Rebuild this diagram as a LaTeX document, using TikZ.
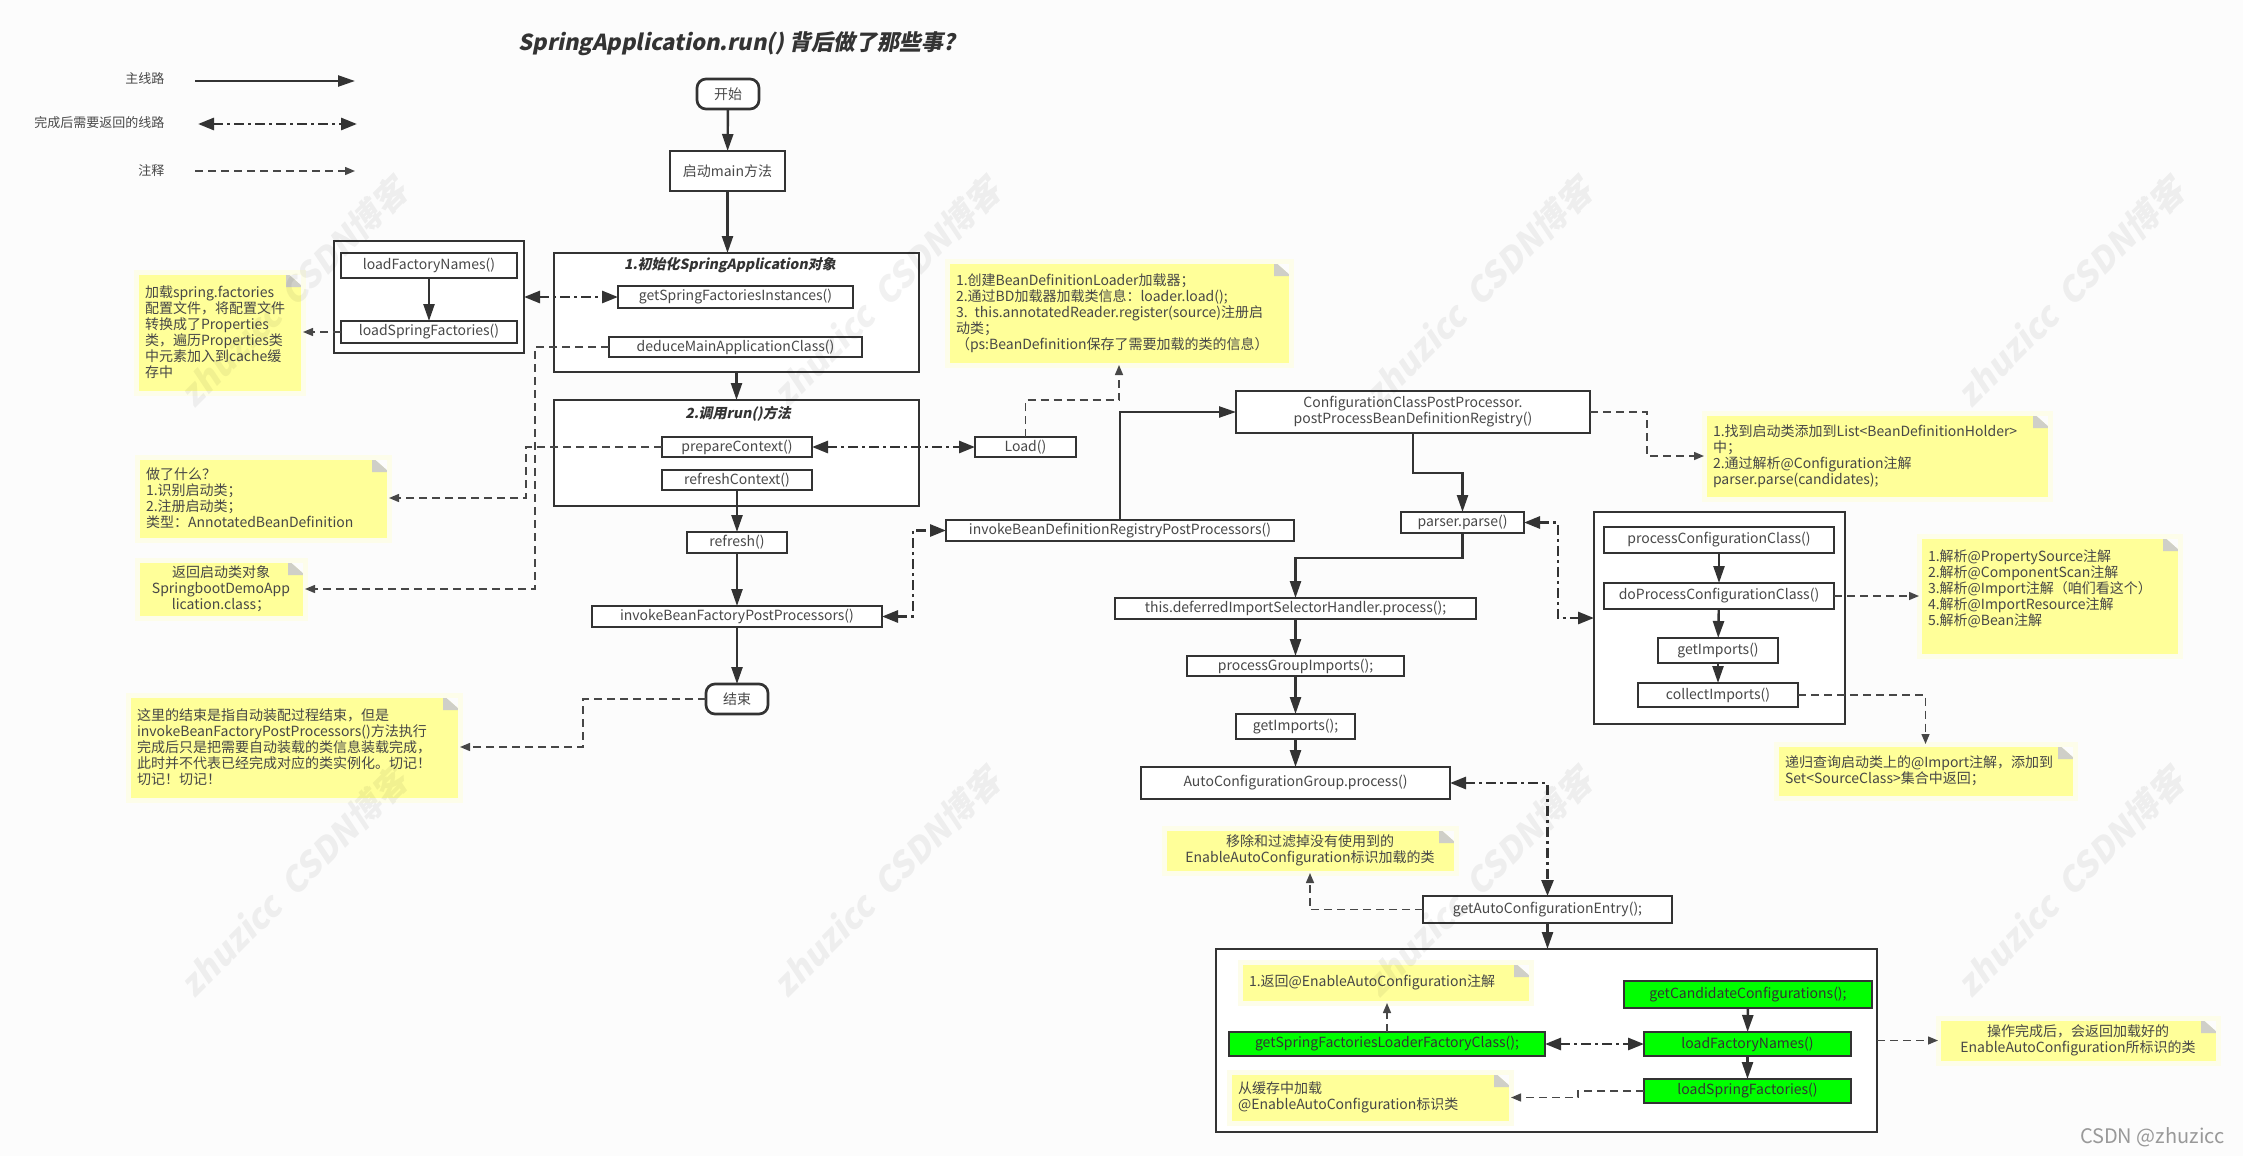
\documentclass[tikz,border=0pt]{standalone}
\usepackage{fontspec}
\setmainfont{Noto Sans CJK SC}
\newfontfamily\slantf[BoldFeatures={FakeSlant=0.2},UprightFeatures={FakeSlant=0.2}]{Noto Sans CJK SC}
\usetikzlibrary{arrows.meta}
\definecolor{bgc}{HTML}{FCFCFC}
\definecolor{ink}{HTML}{333333}
\definecolor{txt}{HTML}{484848}
\definecolor{notey}{HTML}{FFFF99}
\definecolor{halo}{HTML}{FDFDEA}
\definecolor{foldc}{HTML}{CFCFC8}
\tikzset{
  basetext/.style={font=\fontsize{14}{16}\selectfont, text=txt},
  box/.style={basetext, draw=ink, line width=2.7pt, fill=white, inner sep=0pt, outer sep=0pt, align=center},
  frame/.style={box},
  gbox/.style={box, fill=green, text=ink},
  pill/.style={box, rounded corners=9pt},
  notebase/.style={basetext, text=ink!90, fill=notey, draw=halo, line width=5pt, inner ysep=0pt, inner xsep=9pt, outer sep=0pt,
    path picture={
      \fill[bgc] (path picture bounding box.north east) -- ++(-17,0) -- ++(17,15) -- cycle;
      \fill[foldc] (path picture bounding box.north east) ++(-17,0) -- ++(0,15) -- ++(17,0) -- cycle;
    }},
  noteL/.style={notebase, align=left},
  noteC/.style={notebase, align=center},
  ctitle/.style={font=\slantf\bfseries\fontsize{14}{16}\selectfont, text=ink},
  legend/.style={font=\fontsize{13}{15}\selectfont, text=txt, anchor=east},
  main/.style={draw=ink, line width=2.4pt, -{Triangle[length=17pt,width=11pt]}},
  ret/.style={draw=ink, line width=2.8pt, dash pattern=on 10pt off 4pt on 3pt off 4pt, {Triangle[length=16pt,width=12pt]}-{Triangle[length=16pt,width=12pt]}},
  anno/.style={draw=ink!90, line width=1.4pt, dash pattern=on 8pt off 5pt, -{Triangle[length=10pt,width=8pt]}},
  wmark/.style={font=\slantf\bfseries\fontsize{34}{36}\selectfont, text=black, opacity=0.055, rotate=45},
}
\newcommand\bx[7]{%
  \pgfmathsetmacro\bxw{#5-#3}\pgfmathsetmacro\bxh{#6-#4}\pgfmathsetmacro\bxt{#5-#3-18}%
  \node[#1, minimum width=\bxw pt, minimum height=\bxh pt] (#2) at ({(#3+#5)/2},{(#4+#6)/2}) {#7};}
\newcommand\nt[7]{%
  \pgfmathsetmacro\bxw{#5-#3}\pgfmathsetmacro\bxh{#6-#4}\pgfmathsetmacro\bxt{#5-#3-18}%
  \node[#1, text width=\bxt pt, minimum width=\bxw pt, minimum height=\bxh pt] (#2) at ({(#3+#5)/2},{(#4+#6)/2}) {#7};}
\begin{document}
\begin{tikzpicture}[x=1pt,y=-1pt]
\useasboundingbox (0,0) rectangle (2243,1156);
\fill[bgc] (0,0) rectangle (2243,1156);
% title
\node[font=\slantf\bfseries\fontsize{22}{26}\selectfont, text=ink, anchor=west] (title) at (515,44) {SpringApplication.run() 背后做了那些事?};
% legend
\node[legend] (lg1) at (168,79) {主线路};
\node[legend] (lg2) at (168,123) {完成后需要返回的线路};
\node[legend] (lg3) at (168,171) {注释};
\coordinate (lg1a) at (195,81); \coordinate (lg1b) at (355,81);
\coordinate (lg2a) at (198,124); \coordinate (lg2b) at (357,124);
\coordinate (lg3a) at (195,171); \coordinate (lg3b) at (355,171);
\draw[main] (lg1a) -- (lg1b);
\draw[ret] (lg2a) -- (lg2b);
\draw[anno] (lg3a) -- (lg3b);
% left flow
\bx{pill}{start}{697}{79}{759}{109}{开始}
\bx{box}{mainm}{670}{151}{785}{191}{启动main方法}
\bx{frame}{initb}{554}{253}{919}{372}{}
\node[ctitle] (initt) at (730,265) {1.初始化SpringApplication对象};
\bx{box}{gsf}{618}{286}{853}{308}{getSpringFactoriesInstances()}
\bx{box}{deduce}{609}{337}{862}{357}{deduceMainApplicationClass()}
\bx{frame}{lbox}{334}{241}{524}{353}{}
\bx{box}{lfn}{341}{253}{517}{278}{loadFactoryNames()}
\bx{box}{lsf}{341}{321}{517}{343}{loadSpringFactories()}
\bx{frame}{runb}{554}{400}{919}{506}{}
\node[ctitle] (runt) at (738,414) {2.调用run()方法};
\bx{box}{prep}{662}{437}{812}{457}{prepareContext()}
\bx{box}{refc}{662}{470}{812}{490}{refreshContext()}
\bx{box}{refr}{687}{532}{787}{553}{refresh()}
\bx{box}{ibf}{592}{606}{882}{627}{invokeBeanFactoryPostProcessors()}
\bx{pill}{fin}{706}{684}{768}{714}{结束}
\bx{box}{load}{975}{437}{1076}{457}{Load()}
\bx{box}{ibd}{946}{520}{1294}{541}{invokeBeanDefinitionRegistryPostProcessors()}
% middle flow
\bx{box}{cfg}{1236}{391}{1590}{433}{ConfigurationClassPostProcessor.\\postProcessBeanDefinitionRegistry()}
\bx{box}{parser}{1401}{512}{1524}{533}{parser.parse()}
\bx{box}{defer}{1115}{598}{1476}{619}{this.deferredImportSelectorHandler.process();}
\bx{box}{pgi}{1187}{656}{1404}{676}{processGroupImports();}
\bx{box}{gimp}{1236}{714}{1355}{739}{getImports();}
\bx{box}{auto}{1141}{767}{1450}{799}{AutoConfigurationGroup.process()}
\bx{box}{entry}{1423}{896}{1672}{923}{getAutoConfigurationEntry();}
% right frame
\bx{frame}{cbox}{1594}{512}{1845}{724}{}
\bx{box}{pcc}{1604}{527}{1834}{553}{processConfigurationClass()}
\bx{box}{dpc}{1604}{583}{1834}{609}{doProcessConfigurationClass()}
\bx{box}{gi2}{1658}{638}{1778}{663}{getImports()}
\bx{box}{coll}{1638}{683}{1798}{707}{collectImports()}
% bottom frame
\bx{frame}{bbox}{1216}{949}{1877}{1132}{}
\bx{gbox}{cand}{1624}{981}{1872}{1008}{getCandidateConfigurations();}
\bx{gbox}{lfn2}{1644}{1032}{1851}{1056}{loadFactoryNames()}
\bx{gbox}{lsf2}{1644}{1079}{1851}{1103}{loadSpringFactories()}
\bx{gbox}{gsfl}{1229}{1032}{1545}{1056}{getSpringFactoriesLoaderFactoryClass();}
% notes
\nt{noteL}{n1}{136}{272}{303}{393}{加载spring.factories\\配置文件，将配置文件\\转换成了Properties\\类，遍历Properties类\\中元素加入到cache缓\\存中}
\nt{noteL}{n2}{137}{457}{389}{540}{做了什么？\\1.识别启动类；\\2.注册启动类；\\类型：AnnotatedBeanDefinition}
\nt{noteC}{n3}{137}{560}{305}{618}{返回启动类对象\\SpringbootDemoApp\\lication.class；}
\nt{noteL}{n4}{128}{695}{460}{800}{这里的结束是指自动装配过程结束，但是\\invokeBeanFactoryPostProcessors()方法执行\\完成后只是把需要自动装载的类信息装载完成，\\此时并不代表已经完成对应的类实例化。切记！\\切记！切记！}
\nt{noteL}{n5}{947}{261}{1291}{365}{1.创建BeanDefinitionLoader加载器；\\2.通过BD加载器加载类信息：loader.load();\\3. this.annotatedReader.register(source)注册启\\动类；\\（ps:BeanDefinition保存了需要加载的类的信息）}
\nt{noteL}{n6}{1704}{413}{2050}{499}{1.找到启动类添加到List<BeanDefinitionHolder>\\中；\\2.通过解析@Configuration注解\\parser.parse(candidates);}
\nt{noteL}{n7}{1919}{536}{2180}{656}{1.解析@PropertySource注解\\2.解析@ComponentScan注解\\3.解析@Import注解（咱们看这个）\\4.解析@ImportResource注解\\5.解析@Bean注解\\\mbox{}}
\nt{noteL}{n8}{1776}{744}{2075}{798}{递归查询启动类上的@Import注解，添加到\\Set<SourceClass>集合中返回；}
\nt{noteC}{n9}{1164}{828}{1456}{873}{移除和过滤掉没有使用到的\\EnableAutoConfiguration标识加载的类}
\nt{noteL}{n10}{1240}{962}{1531}{1003}{1.返回@EnableAutoConfiguration注解}
\nt{noteL}{n11}{1229}{1072}{1511}{1123}{从缓存中加载\\@EnableAutoConfiguration标识类}
\nt{noteC}{n12}{1938}{1018}{2218}{1063}{操作完成后，会返回加载好的\\EnableAutoConfiguration所标识的类}
% bend points
\coordinate (jd) at (535,589);
\coordinate (jp) at (526,498);
\coordinate (je) at (583,747);
\coordinate (jl) at (0,400);
\coordinate (jb) at (913,0);
\coordinate (jc) at (0,473);
\coordinate (jq) at (0,558);
\coordinate (jr) at (1558,618);
\coordinate (jn) at (1647,0);
\coordinate (js) at (1578,0);
% main connectors
\draw[main] (start) -- (mainm);
\draw[main] (mainm.south) -- (mainm.south |- initb.north);
\draw[main] (initb) -- (runb);
\draw[main] (lfn) -- (lsf);
\draw[main] (refc) -- (refr);
\draw[main] (refr) -- (ibf);
\draw[main] (ibf) -- (fin);
\draw[main] (ibd.north) |- (cfg.west);
\draw[main] (cfg.south) -- (cfg.south |- jc) -- (parser.north |- jc) -- (parser.north);
\draw[main] (parser.south) -- (parser.south |- jq) -- (defer.north |- jq) -- (defer.north);
\draw[main] (defer) -- (pgi);
\draw[main] (pgi) -- (gimp);
\draw[main] (gimp) -- (auto);
\draw[main] (entry.south) -- (entry.south |- bbox.north);
\draw[main] (pcc) -- (dpc);
\draw[main] (dpc) -- (gi2);
\draw[main] (gi2) -- (coll);
\draw[main] (cand) -- (lfn2);
\draw[main] (lfn2) -- (lsf2);
% return connectors
\draw[ret] (lbox.east |- gsf.west) -- (gsf.west);
\draw[ret] (prep.east) -- (load.west);
\draw[ret] (ibf.east) -- (ibf.east -| jb) -- (ibd.west -| jb) -- (ibd.west);
\draw[ret] (parser.east) -- (parser.east -| jr) -- (jr) -- (cbox.west |- jr);
\draw[ret] (auto.east) -| (entry.north);
\draw[ret] (gsfl.east) -- (lfn2.west);
% annotation connectors
\draw[anno] (lsf.west) -- (n1.east |- lsf.west);
\draw[anno] (deduce.west) -- (deduce.west -| jd) -- (jd) -- (n3.east |- jd);
\draw[anno] (prep.west) -- (prep.west -| jp) -- (jp) -- (n2.east |- jp);
\draw[anno] (fin.west) -- (fin.west -| je) -- (je) -- (n4.east |- je);
\draw[anno] (load.north) -- (load.north |- jl) -- (n5.south |- jl) -- (n5.south);
\draw[anno] (cfg.east) -- (cfg.east -| jn) -- (n6.west -| jn) -- (n6.west);
\draw[anno] (dpc.east) -- (n7.west |- dpc.east);
\draw[anno] (coll.east) -| (n8.north);
\draw[anno] (entry.west) -| (n9.south);
\draw[anno] (gsfl.north) -- (gsfl.north |- n10.south);
\draw[anno] (lsf2.west) -- (lsf2.west -| js) -- (n11.east -| js) -- (n11.east);
\draw[anno] (bbox.east |- n12.west) -- (n12.west);
% credit
\node[font=\fontsize{20}{22}\selectfont, text=black!40, anchor=east] (credit) at (2228,1137) {CSDN @zhuzicc};
% watermarks
\foreach \wx/\wy/\wn in {293/292/a,886/292/b,1478/292/c,2070/292/d,293/882/e,886/882/f,1478/882/g,2070/882/h}{
  \node[wmark] (wm\wn) at (\wx,\wy) {zhuzicc\ \ CSDN博客};
}
\end{tikzpicture}
\end{document}
